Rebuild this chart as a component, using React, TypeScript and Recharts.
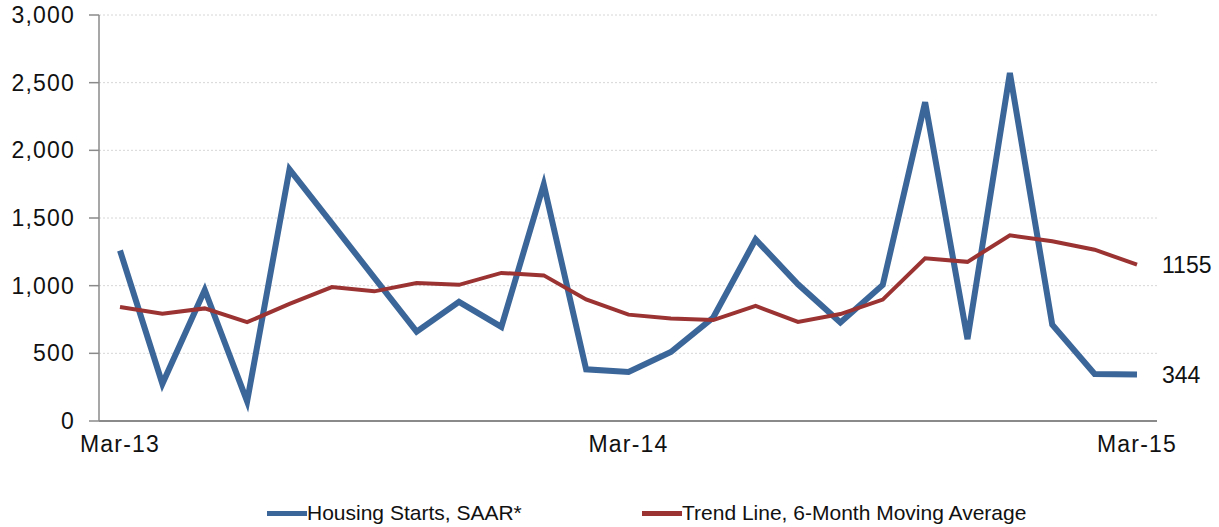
import { LineChart, Line, XAxis, YAxis, CartesianGrid, LabelList } from 'recharts'

// monthly, Mar-13 .. Mar-15
const months = [
  'Mar-13', 'Apr-13', 'May-13', 'Jun-13', 'Jul-13', 'Aug-13', 'Sep-13', 'Oct-13', 'Nov-13',
  'Dec-13', 'Jan-14', 'Feb-14', 'Mar-14', 'Apr-14', 'May-14', 'Jun-14', 'Jul-14', 'Aug-14',
  'Sep-14', 'Oct-14', 'Nov-14', 'Dec-14', 'Jan-15', 'Feb-15', 'Mar-15',
]
const starts = [
  1260, 275, 968, 145, 1860, 1460, 1060, 660, 880,
  695, 1748, 382, 362, 510, 765, 1342, 1010, 728,
  1005, 2355, 605, 2572, 712, 348, 344,
]
const trend = [
  842, 792, 832, 730, 866, 990, 958, 1020, 1006,
  1094, 1076, 898, 786, 758, 746, 850, 732, 790,
  897, 1202, 1176, 1372, 1328, 1266, 1155,
]
const yTicks = [0, 500, 1000, 1500, 2000, 2500, 3000]
const xTicks = ['Mar-13', 'Mar-14', 'Mar-15']

const BLUE = '#3b6699'
const RED = '#9b3333'
const FONT = '"Liberation Sans", Arial, sans-serif'

const data = months.map((m, i) => ({ month: m, starts: starts[i], trend: trend[i] }))

const endLabel = (props: any) => {
  const { x, y, value, index } = props
  if (index !== data.length - 1) return null
  return (
    <text x={x + 25} y={y} dy="0.36em" fontSize={23} fontFamily={FONT} fill="#111">
      {value}
    </text>
  )
}

export default function App() {
  return (
    <div style={{ position: 'absolute', left: 0, top: 0, width: 1219, height: 527, background: '#fff' }}>
      <LineChart
        width={1219}
        height={527}
        data={data}
        margin={{ top: 15, right: 62, bottom: 76, left: 0 }}
      >
        <CartesianGrid vertical={false} stroke="#d6d6d6" strokeDasharray="2 2" />
        <XAxis
          dataKey="month"
          ticks={xTicks}
          interval={0}
          tickLine={false}
          tickSize={0}
          tickMargin={15}
          height={30}
          padding={{ left: 21, right: 20 }}
          stroke="#8a8a8a"
          strokeWidth={2}
          tick={{ fill: '#111', fontSize: 23, fontFamily: FONT, letterSpacing: 1.2 }}
        />
        <YAxis
          domain={[0, 3000]}
          ticks={yTicks}
          width={99}
          tickSize={10}
          tickMargin={14}
          stroke="#8a8a8a"
          strokeWidth={1.5}
          tickFormatter={(v: number) => v.toLocaleString('en-US')}
          tick={{ fill: '#111', fontSize: 23, fontFamily: FONT, letterSpacing: 1.2 }}
        />
        <Line
          type="linear"
          dataKey="starts"
          stroke={BLUE}
          strokeWidth={6}
          dot={false}
          isAnimationActive={false}
        >
          <LabelList dataKey="starts" content={endLabel} />
        </Line>
        <Line
          type="linear"
          dataKey="trend"
          stroke={RED}
          strokeWidth={4}
          dot={false}
          isAnimationActive={false}
        >
          <LabelList dataKey="trend" content={endLabel} />
        </Line>
      </LineChart>
      <div
        style={{
          position: 'absolute',
          top: 501,
          left: 0,
          width: 1219,
          height: 24,
          fontFamily: FONT,
          fontSize: 21,
          color: '#111',
        }}
      >
        <div style={{ position: 'absolute', left: 267, top: 0, display: 'flex', alignItems: 'center' }}>
          <span style={{ display: 'inline-block', width: 40, height: 5, background: BLUE }} />
          <span>Housing Starts, SAAR*</span>
        </div>
        <div style={{ position: 'absolute', left: 642, top: 0, display: 'flex', alignItems: 'center' }}>
          <span style={{ display: 'inline-block', width: 40, height: 5, background: RED }} />
          <span>Trend Line, 6-Month Moving Average</span>
        </div>
      </div>
    </div>
  )
}
